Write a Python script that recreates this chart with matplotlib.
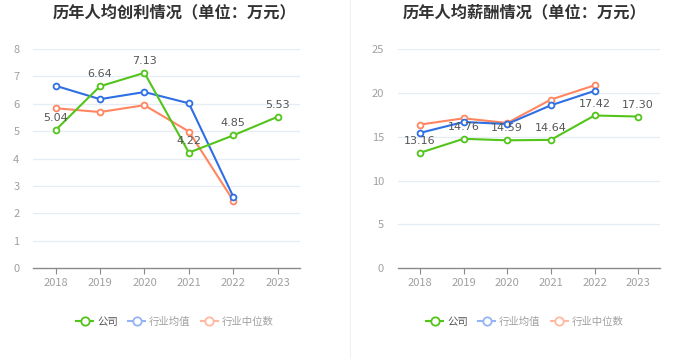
import matplotlib
matplotlib.use("Agg")
import matplotlib.pyplot as plt
from matplotlib.lines import Line2D

plt.rcParams['font.family'] = ['Noto Sans CJK SC', 'DejaVu Sans']

years = ["2018", "2019", "2020", "2021", "2022", "2023"]

profit_company = [5.04, 6.64, 7.13, 4.22, 4.85, 5.53]
profit_avg = [6.66, 6.17, 6.43, 6.02, 2.61]
profit_median = [5.84, 5.70, 5.95, 4.99, 2.47]

salary_company = [13.16, 14.76, 14.59, 14.64, 17.42, 17.30]
salary_avg = [15.43, 16.68, 16.45, 18.58, 20.22]
salary_median = [16.38, 17.10, 16.57, 19.23, 20.86]

titles = ["历年人均创利情况（单位：万元）", "历年人均薪酬情况（单位：万元）"]
legend_labels = ["公司", "行业均值", "行业中位数"]

GREEN = "#52C41A"
BLUE = "#2F6FE4"
ORANGE = "#FF8660"
BLUE_L = "#94B4F5"
ORANGE_L = "#FFB9A0"

fig = plt.figure(figsize=(6.99, 3.59), dpi=100)

panels = [
    dict(rect=[33.3/699, 1-268.3/359, (300-33.3)/699, (268.3-49)/359],
         comp=profit_company, avg=profit_avg, med=profit_median,
         ymax=8, step=1, title=titles[0], cx=175/699),
    dict(rect=[398/699, 1-268.3/359, (660-398)/699, (268.3-49)/359],
         comp=salary_company, avg=salary_avg, med=salary_median,
         ymax=25, step=5, title=titles[1], cx=525/699),
]

for p in panels:
    ax = fig.add_axes(p['rect'])
    x = list(range(len(years)))
    ax.set_xlim(-0.5, len(years) - 0.5)
    ax.set_ylim(0, p['ymax'])
    ticks = list(range(0, p['ymax'] + 1, p['step']))
    ax.set_yticks(ticks)
    ax.set_xticks(x)
    ax.set_xticklabels(years)
    for t in ticks[1:]:
        ax.axhline(t, color="#E6ECF5", lw=0.9, zorder=0)
    for s in ['top', 'right', 'left']:
        ax.spines[s].set_visible(False)
    ax.spines['bottom'].set_color("#8A8A8A")
    ax.spines['bottom'].set_linewidth(1.0)
    ax.tick_params(axis='y', length=0, labelsize=8, labelcolor="#A0A0A0", pad=10)
    ax.tick_params(axis='x', length=4, color="#8A8A8A", labelsize=8, labelcolor="#A0A0A0", pad=3)

    mk = dict(marker='o', markersize=4.2, markerfacecolor='white', markeredgewidth=1.3)
    ax.plot(x[:len(p['med'])], p['med'], color=ORANGE, lw=1.5, markeredgecolor=ORANGE, zorder=3, **mk)
    ax.plot(x[:len(p['avg'])], p['avg'], color=BLUE, lw=1.5, markeredgecolor=BLUE, zorder=4, **mk)
    ax.plot(x, p['comp'], color=GREEN, lw=1.5, markeredgecolor=GREEN, zorder=5, **mk)
    for xi, v in zip(x, p['comp']):
        ax.annotate(f"{v:.2f}", (xi, v), xytext=(0, 5), textcoords='offset points',
                    ha='center', va='bottom', fontsize=8, color="#555555", zorder=6,
                    family=['DejaVu Sans'])

    fig.text(p['cx'], 1-12/359, p['title'], ha='center', va='center',
             fontsize=11.7, fontweight='bold', color="#333333")

    handles = [
        Line2D([], [], color=GREEN, lw=1.5, marker='o', markersize=6, markerfacecolor='white', markeredgecolor=GREEN, markeredgewidth=1.3),
        Line2D([], [], color=BLUE_L, lw=1.5, marker='o', markersize=6, markerfacecolor='white', markeredgecolor=BLUE_L, markeredgewidth=1.3),
        Line2D([], [], color=ORANGE_L, lw=1.5, marker='o', markersize=6, markerfacecolor='white', markeredgecolor=ORANGE_L, markeredgewidth=1.3),
    ]
    leg = fig.legend(handles, legend_labels, loc='center', bbox_to_anchor=(p['cx'], 1-322/359),
                     ncol=3, frameon=False, fontsize=7.5, handlelength=1.6, handletextpad=0.4,
                     columnspacing=1.0)
    for i, t in enumerate(leg.get_texts()):
        t.set_color("#555555" if i == 0 else "#A0A0A0")

fig.add_artist(Line2D([350/699, 350/699], [0, 1], transform=fig.transFigure, color="#F0F0F0", lw=0.8))

fig.savefig("out.png", dpi=100)
